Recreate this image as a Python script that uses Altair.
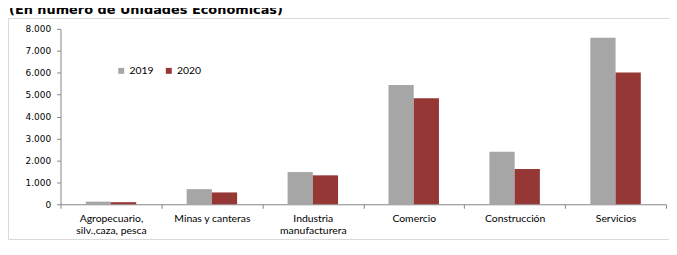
import altair as alt
import pandas as pd

titulo = "(En número de Unidades Económicas)"
categorias = [
    "Agropecuario,|silv.,caza, pesca",
    "Minas y canteras",
    "Industria|manufacturera",
    "Comercio",
    "Construcción",
    "Servicios",
]
anios = ["2019", "2020"]
valores_2019 = [120, 690, 1470, 5440, 2400, 7590]
valores_2020 = [95, 540, 1320, 4840, 1610, 6010]
colores = ["#a6a6a6", "#953735"]
ticks_y = [0, 1000, 2000, 3000, 4000, 5000, 6000, 7000, 8000]

rows = []
for c, v1, v2 in zip(categorias, valores_2019, valores_2020):
    rows.append({"Sector": c, "Año": anios[0], "Valor": v1})
    rows.append({"Sector": c, "Año": anios[1], "Valor": v2})
df = pd.DataFrame(rows)

W, H = 611, 177

bars = alt.Chart(df).mark_bar().encode(
    x=alt.X(
        "Sector:N",
        sort=categorias,
        scale=alt.Scale(paddingInner=0, paddingOuter=0),
        axis=alt.Axis(
            title=None,
            labelAngle=0,
            labelExpr="split(datum.label, '|')",
            labelFont="Lato",
            labelFontSize=10.5,
            labelColor="#000000",
            labelLineHeight=13,
            labelBaseline="top",
            labelPadding=5,
            tickSize=4,
            tickColor="#868686",
            domainColor="#868686",
            tickBand="extent",
        ),
    ),
    xOffset=alt.XOffset("Año:N", sort=anios, scale=alt.Scale(paddingInner=0, paddingOuter=1)),
    y=alt.Y(
        "Valor:Q",
        scale=alt.Scale(domain=[0, 8000], nice=False),
        axis=alt.Axis(
            title=None,
            values=ticks_y,
            labelExpr="replace(format(datum.value, ','), ',', '.')",
            labelFont="DejaVu Sans",
            labelFontSize=9,
            labelColor="#000000",
            labelPadding=6,
            tickSize=4,
            tickColor="#868686",
            domainColor="#868686",
            grid=False,
        ),
    ),
    color=alt.Color(
        "Año:N",
        sort=anios,
        scale=alt.Scale(domain=anios, range=colores),
        legend=alt.Legend(
            title=None,
            orient="none",
            legendX=56,
            legendY=37,
            direction="horizontal",
            symbolType="square",
            symbolSize=36,
            symbolStrokeWidth=0,
            labelFont="Lato",
            labelFontSize=10.5,
            labelColor="#000000",
            labelOffset=3,
            columnPadding=10,
            padding=0,
        ),
    ),
)

frame = alt.Chart(pd.DataFrame({"f": [1]})).mark_rect(
    fill="transparent", stroke="#d9d9d9", strokeWidth=1
).encode(
    x=alt.value(-52.5), x2=alt.value(640), y=alt.value(-10.5), y2=alt.value(212.5)
)

title = alt.Chart(pd.DataFrame({"t": [titulo]})).mark_text(
    font="DejaVu Sans", fontWeight="bold", fontSize=13, align="left", baseline="alphabetic", color="#000000"
).encode(text="t:N", x=alt.value(-52), y=alt.value(-15))

chart = alt.layer(frame, bars, title).properties(
    width=W,
    height=H,
    autosize=alt.AutoSizeParams(type="none"),
    padding={"left": 53, "top": 20, "right": 3, "bottom": 36},
).configure_view(stroke=None)

chart.save("out.html", embed_options={"renderer": "svg", "actions": False})
